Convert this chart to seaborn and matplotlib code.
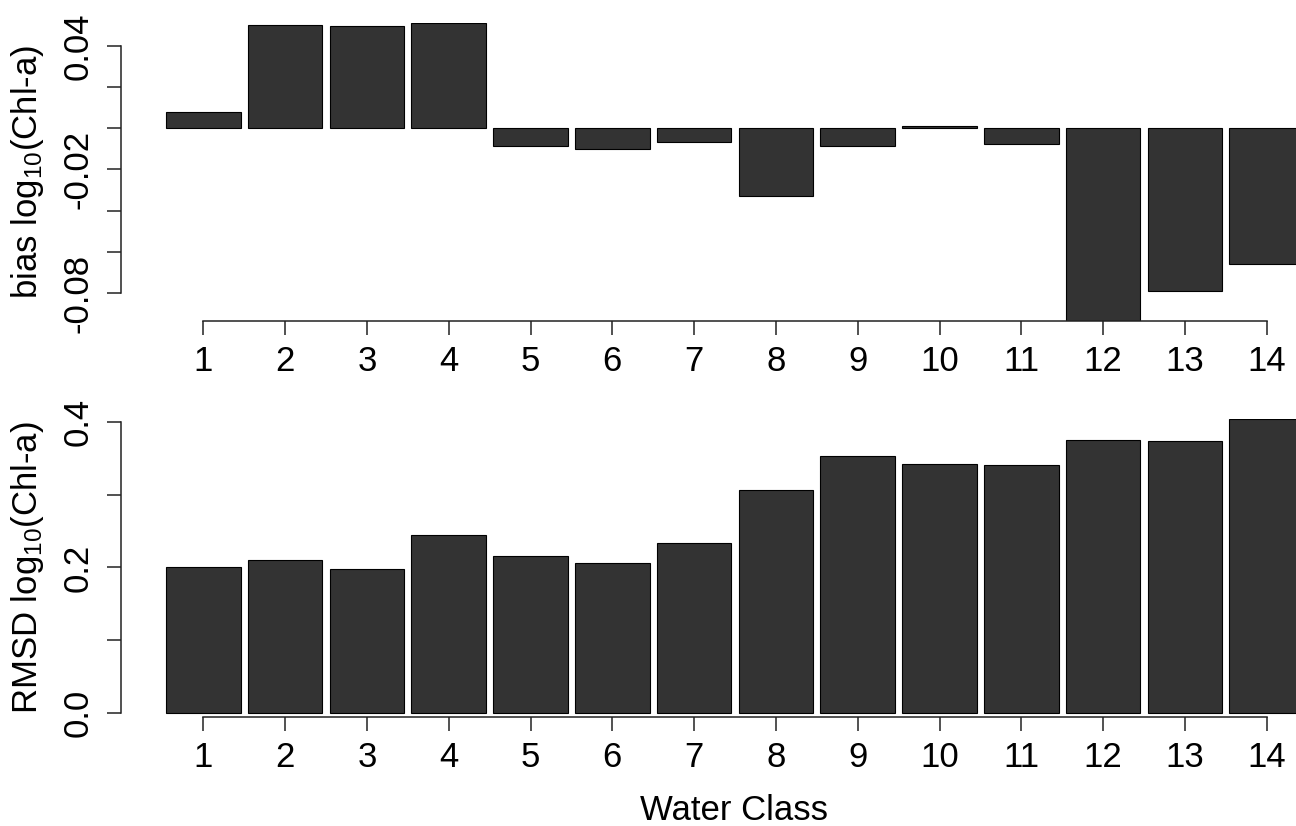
import matplotlib
matplotlib.use("Agg")
import matplotlib.pyplot as plt
import seaborn as sns

# water classes and per-class statistics
water_class = [1, 2, 3, 4, 5, 6, 7, 8, 9, 10, 11, 12, 13, 14]
bias = [0.0079, 0.0502, 0.0498, 0.0511, -0.0086, -0.0101, -0.0067,
        -0.0329, -0.0086, 0.0010, -0.0077, -0.0936, -0.0792, -0.0661]
rmsd = [0.201, 0.210, 0.198, 0.2445, 0.216, 0.206, 0.2335,
        0.306, 0.353, 0.342, 0.3405, 0.3745, 0.3735, 0.4037]

bias_ticks = [-0.08, -0.06, -0.04, -0.02, 0.0, 0.02, 0.04]
bias_ticklabels = ["-0.08", "", "", "-0.02", "", "", "0.04"]
rmsd_ticks = [0.0, 0.1, 0.2, 0.3, 0.4]
rmsd_ticklabels = ["0.0", "", "0.2", "", "0.4"]

sns.set_style("ticks")
plt.rcParams["font.family"] = ["Liberation Sans", "DejaVu Sans"]
plt.rcParams["mathtext.default"] = "regular"
plt.rcParams["axes.unicode_minus"] = False

BAR = "#333333"
FS = 25

fig = plt.figure(figsize=(12.96, 8.26), dpi=100)
ax1 = fig.add_axes([0.093, 0.6114, 0.907, 0.3608])
ax2 = fig.add_axes([0.093, 0.1320, 0.907, 0.3608])

for ax, vals in [(ax1, bias), (ax2, rmsd)]:
    sns.barplot(x=water_class, y=vals, native_scale=True, width=0.91,
                color=BAR, saturation=1, edgecolor="black", linewidth=0.8,
                errorbar=None, ax=ax)
    ax.set_xlim(-0.012, 14.358)
    ax.set_xticks(water_class)
    ax.set_xticklabels([str(c) for c in water_class])
    sns.despine(ax=ax)
    ax.spines["bottom"].set_bounds(1, 14)
    for s in ("left", "bottom"):
        ax.spines[s].set_linewidth(1.1)
        ax.spines[s].set_color("#222222")
    ax.tick_params(axis="both", length=10, width=1.1, color="#222222",
                   labelsize=FS, labelcolor="black")
    ax.tick_params(axis="x", pad=7)
    ax.tick_params(axis="y", pad=9)
    ax.set_xlabel("")

# top panel: bias
ax1.set_ylim(min(bias), max(bias))
ax1.set_yticks(bias_ticks)
ax1.set_yticklabels(bias_ticklabels, rotation=90, va="center")
ax1.spines["left"].set_bounds(-0.08, 0.04)
ax1.set_ylabel("bias log$_{10}$(Chl-a)", fontsize=FS, color="black")
ax1.yaxis.set_label_coords(-0.063, 0.5)

# bottom panel: RMSD
ax2.set_ylim(-0.005, max(rmsd))
ax2.set_yticks(rmsd_ticks)
ax2.set_yticklabels(rmsd_ticklabels, rotation=90, va="center")
ax2.spines["left"].set_bounds(0.0, 0.4)
ax2.set_ylabel("RMSD log$_{10}$(Chl-a)", fontsize=FS, color="black")
ax2.yaxis.set_label_coords(-0.063, 0.5)
ax2.set_xlabel("Water Class", fontsize=FS, color="black")
ax2.xaxis.set_label_coords(0.5223, -0.26)

fig.savefig("out.png", dpi=100)
plt.close(fig)
